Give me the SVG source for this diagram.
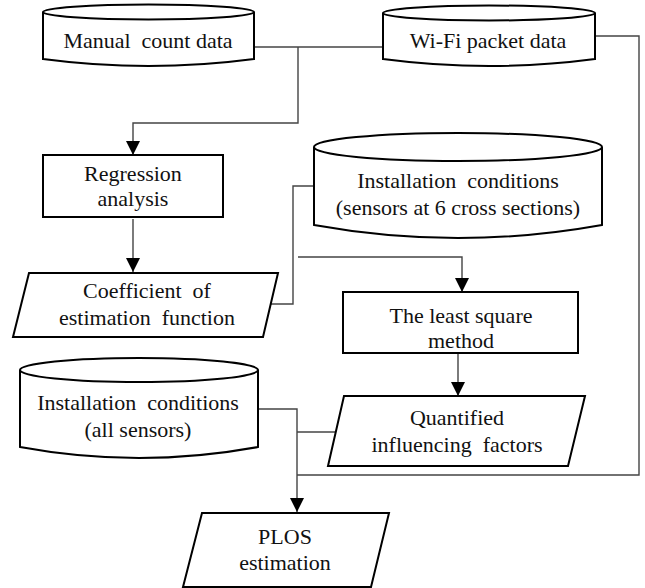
<svg xmlns="http://www.w3.org/2000/svg" width="645" height="588" viewBox="0 0 645 588">
<style>
.s{fill:#fff;stroke:#000;stroke-width:2}
.c{fill:none;stroke:#444;stroke-width:1.4}
.t{font-family:"Liberation Serif","Times New Roman",serif;font-size:22px;fill:#111;text-anchor:middle;white-space:pre}
</style>
<defs>
<marker id="ah" viewBox="0 0 14 14" refX="14" refY="7" markerWidth="14" markerHeight="14" markerUnits="userSpaceOnUse" orient="auto">
<path d="M0,0 L14,7 L0,14 Z" fill="#000"/>
</marker>
</defs>
<rect width="645" height="588" fill="#fff"/>
<g id="connectors">
<path class="c" d="M254,47 H383"/>
<path class="c" d="M298,47 V123 H133 V155" marker-end="url(#ah)"/>
<path class="c" d="M133,219 V272" marker-end="url(#ah)"/>
<path class="c" d="M595,36 H639 V475 H297"/>
<path class="c" d="M313,186 H293 V304 H271"/>
<path class="c" d="M298,257 H462 V292" marker-end="url(#ah)"/>
<path class="c" d="M458,353 V396" marker-end="url(#ah)"/>
<path class="c" d="M258,409 H297 V512" marker-end="url(#ah)"/>
<path class="c" d="M297,432 H336"/>
</g>
<g id="manual">
<path class="s" d="M43,12 V59 Q148.5,73 254,59 V12"/>
<ellipse class="s" cx="148.5" cy="12" rx="105.5" ry="7.5"/>
<text class="t" x="148" y="48">Manual  count data</text>
</g>
<g id="wifi">
<path class="s" d="M383,13 V59 Q489,73 595,59 V13"/>
<ellipse class="s" cx="489" cy="13" rx="106" ry="7.5"/>
<text class="t" x="488" y="48">Wi-Fi packet data</text>
</g>
<g id="regression">
<rect class="s" x="43" y="155" width="180" height="62"/>
<text class="t" x="133" y="181">Regression</text>
<text class="t" x="133" y="206">analysis</text>
</g>
<g id="install6">
<path class="s" d="M314,147 V225 Q458,251 602,225 V147"/>
<ellipse class="s" cx="458" cy="147" rx="144" ry="14"/>
<text class="t" x="458" y="188">Installation  conditions</text>
<text class="t" x="458" y="215">(sensors at 6 cross sections)</text>
</g>
<g id="coefficient">
<polygon class="s" points="29,273 278,273 263,337 13,337"/>
<text class="t" x="147" y="298">Coefficient  of</text>
<text class="t" x="147" y="325">estimation  function</text>
</g>
<g id="leastsquare">
<rect class="s" x="343" y="292" width="235" height="61"/>
<text class="t" x="461" y="323">The least square</text>
<text class="t" x="461" y="348">method</text>
</g>
<g id="installall">
<path class="s" d="M20,370 V447 Q139,469 258,447 V370"/>
<ellipse class="s" cx="139" cy="370" rx="119" ry="12"/>
<text class="t" x="138" y="410">Installation  conditions</text>
<text class="t" x="138" y="437">(all sensors)</text>
</g>
<g id="quantified">
<polygon class="s" points="344,396 585,396 568,466 328,466"/>
<text class="t" x="457" y="425">Quantified</text>
<text class="t" x="457" y="452">influencing  factors</text>
</g>
<g id="plos">
<polygon class="s" points="202,513 389,513 371,587 183,587"/>
<text class="t" x="285" y="544">PLOS</text>
<text class="t" x="285" y="570">estimation</text>
</g>
</svg>
